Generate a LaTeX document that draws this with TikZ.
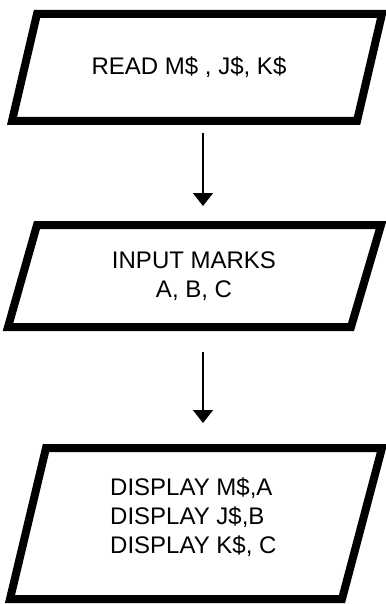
\documentclass[tikz,border=0pt]{standalone}
\usepackage{fontspec}
\setmainfont{Liberation Sans}
\usetikzlibrary{arrows.meta}
\begin{document}
\begin{tikzpicture}[x=1pt,y=1pt,
  iobox/.style={line width=8pt, line join=miter},
  label/.style={inner sep=0pt, font=\fontsize{24}{29}\selectfont},
  flow/.style={line width=1.5pt, -{Triangle[width=20pt,length=13pt]}}]
  \fill[white] (0,0) rectangle (385,-604);
  \useasboundingbox (0,0) rectangle (385,-604);

  % data boxes (parallelograms)
  \draw[iobox] (37,-14) -- (382,-14) -- (357,-121) -- (12,-121) -- cycle;
  \draw[iobox] (37,-225) -- (381,-225) -- (351,-327) -- (8,-327) -- cycle;
  \draw[iobox] (46,-448) -- (382,-448) -- (342,-599) -- (10,-599) -- cycle;

  % box texts (base anchor sits on the last line's baseline)
  \node[label, anchor=base] (read) at (189,-75) {READ M\$ , J\$, K\$};
  \node[label, anchor=base, align=center] (input) at (194,-297) {INPUT MARKS\\A, B, C};
  \node[label, anchor=base west, align=left] (show) at (110,-553) {DISPLAY M\$,A\\DISPLAY J\$,B\\DISPLAY K\$, C};

  % connectors between the boxes
  \coordinate (r1) at (203,-133);
  \coordinate (i1) at (203,-206);
  \coordinate (r2) at (203,-352);
  \coordinate (i2) at (203,-423);
  \draw[flow] (r1) -- (i1);
  \draw[flow] (r2) -- (i2);
\end{tikzpicture}
\end{document}
